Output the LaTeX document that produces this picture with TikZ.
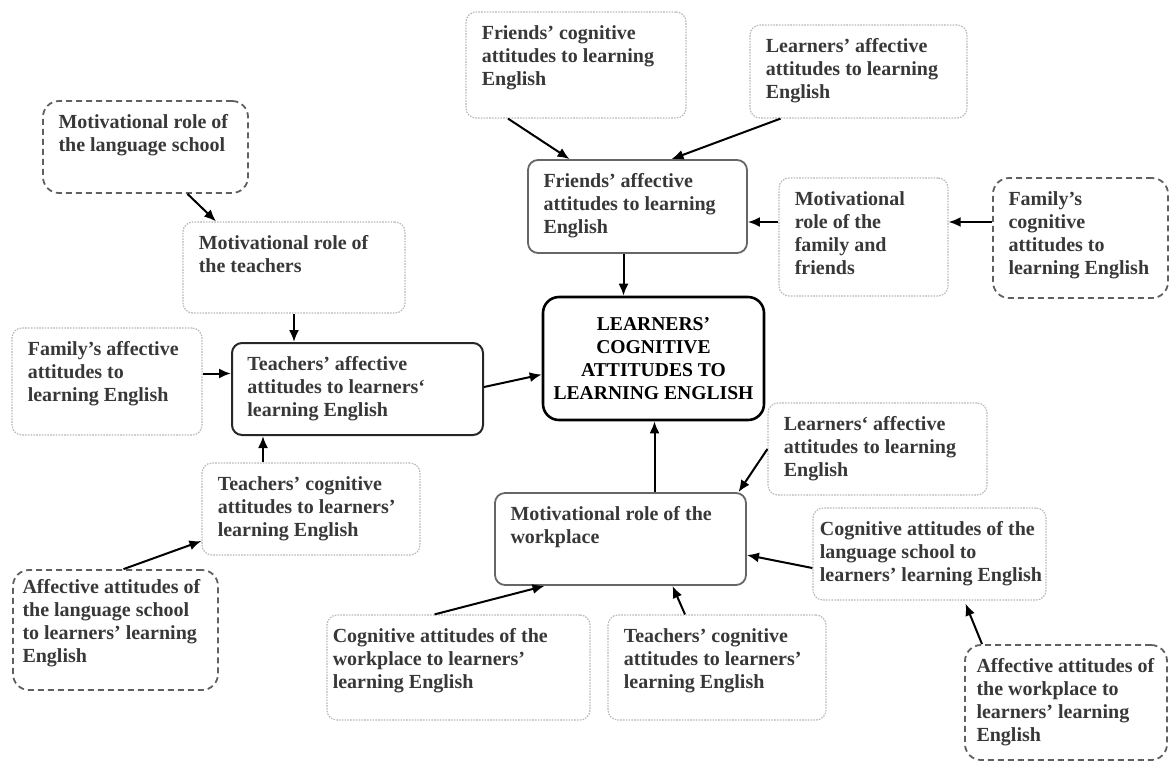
\documentclass[tikz,border=0pt]{standalone}
\usepackage{fontspec}
\setmainfont{Liberation Serif}
\usetikzlibrary{positioning, arrows.meta}

\definecolor{inkgray}{gray}{0.22}

\tikzset{
  base/.style={rounded corners=5pt, inner sep=0pt},
  dims/.style 2 args={minimum width=#1pt, minimum height=#2pt},
  solidbox/.style={base, draw=gray!80!black, line width=0.9pt},
  darkbox/.style={base, draw=black!85, line width=1pt},
  mainbox/.style={base, draw=black, line width=1.3pt, rounded corners=8pt},
  dashbox/.style={base, draw=gray!75!black, line width=0.9pt, dash pattern=on 3pt off 2pt, rounded corners=8pt},
  dotbox/.style={base, draw=gray!55, line width=0.6pt, dash pattern=on 0.8pt off 0.6pt},
  txt/.style={anchor=north west, align=left, inner xsep=8pt, inner ysep=7pt, text=inkgray,
    font=\fontsize{10}{11.5}\selectfont\bfseries},
  link/.style={-{Latex[length=6pt,width=5pt]}, line width=1pt, black},
}

\begin{document}
\begin{tikzpicture}[x=1pt, y=-1pt]
    \useasboundingbox (0,0) rectangle (585,380.5);

    % Left side - the teachers
    \node[dashbox, dims={102.5}{46}, label={[txt]north west:{Motivational role of\\the language school}}] (lsmot) at (72.75,73.5) {};
    \node[dotbox, dims={111}{45.5}, label={[txt]north west:{Motivational role of\\the teachers}}] (tmot) at (147,133.75) {};
    \node[dotbox, dims={95}{53.5}, label={[txt]north west:{Family’s affective\\attitudes to\\learning English}}] (famaff) at (53.5,190.75) {};
    \node[darkbox, dims={125.5}{46}, label={[txt]north west:{Teachers’ affective\\attitudes to learners`\\learning English}}] (taff) at (178.75,194.5) {};
    \node[dotbox, dims={109}{46}, label={[txt]north west:{Teachers’ cognitive\\attitudes to learners’\\learning English}}] (tcogl) at (155.5,254.5) {};
    \node[dashbox, dims={102.5}{60}, label={[txt, inner xsep=5pt, inner ysep=5pt]north west:{Affective attitudes of\\the language school\\to learners’ learning\\English}}] (afflang) at (57.75,315) {};

    % Top - the friends and the family
    \node[dotbox, dims={110}{53}, label={[txt]north west:{Friends’ cognitive\\attitudes to learning\\English}}] (frcog) at (288,32.5) {};
    \node[dotbox, dims={108.5}{46.5}, label={[txt]north west:{Learners’ affective\\attitudes to learning\\English}}] (lafft) at (429.25,35.75) {};
    \node[solidbox, dims={109.5}{46.5}, label={[txt]north west:{Friends’ affective\\attitudes to learning\\English}}] (fraff) at (318.75,103.25) {};
    \node[dotbox, dims={84.5}{59}, label={[txt]north west:{Motivational\\role of the\\family and\\friends}}] (motff) at (431.75,118.5) {};
    \node[dashbox, dims={87.5}{60}, label={[txt]north west:{Family’s\\cognitive\\attitudes to\\learning English}}] (famcog) at (540.25,119) {};

    % Centre
    \node[mainbox, dims={110.5}{61.5}, align=center, font=\fontsize{9.8}{11.5}\selectfont\bfseries] (central) at (326.75,179.25) {LEARNERS’\\COGNITIVE\\ATTITUDES TO\\LEARNING ENGLISH};

    % Bottom - the workplace
    \node[dotbox, dims={109.5}{46}, label={[txt]north west:{Learners` affective\\attitudes to learning\\English}}] (laffb) at (438.75,224.5) {};
    \node[solidbox, dims={125.5}{46}, label={[txt]north west:{Motivational role of the\\workplace}}] (mwork) at (310.25,269.5) {};
    \node[dotbox, dims={116.5}{46}, label={[txt, inner xsep=3.5pt]north west:{Cognitive attitudes of the\\language school to\\learners’ learning English}}] (coglang) at (464.75,277) {};
    \node[dotbox, dims={131.5}{52.5}, label={[txt, inner xsep=3pt]north west:{Cognitive attitudes of the\\workplace to learners’\\learning English}}] (cogwork) at (229.25,333.75) {};
    \node[dotbox, dims={109}{52.5}, label={[txt]north west:{Teachers’ cognitive\\attitudes to learners’\\learning English}}] (tcogb) at (358.5,333.75) {};
    \node[dashbox, dims={101}{57.5}, label={[txt, inner xsep=6pt]north west:{Affective attitudes of\\the workplace to\\learners’ learning\\English}}] (affwork) at (533,351.25) {};

    % Connectors
    \draw[link] ([xshift=21pt]lsmot.south) -- ([xshift=-39pt]tmot.north);
    \draw[link] (tmot.south) -- (tmot.south |- taff.north);
    \draw[link] ([yshift=4pt]famaff.east) -- ([yshift=4pt]famaff.east -| taff.west);
    \draw[link] ([xshift=-24pt]tcogl.north) -- ([xshift=-24pt]tcogl.north |- taff.south);
    \draw[link] ([xshift=4pt]afflang.north) -- ([yshift=-16pt]tcogl.west);
    \draw[link] ([yshift=1pt]taff.east) -- ([yshift=-8pt]central.west);
    \draw[link] ([xshift=-34pt]frcog.south) -- ([xshift=-34pt]fraff.north);
    \draw[link] ([xshift=-39pt]lafft.south) -- ([xshift=17pt]fraff.north);
    \draw[link] ([xshift=-7pt]fraff.south) -- ([xshift=-7pt]fraff.south |- central.north);
    \draw[link] ([yshift=7.5pt]motff.west) -- ([yshift=7.5pt]motff.west -| fraff.east);
    \draw[link] ([yshift=8pt]famcog.west) -- ([yshift=8pt]famcog.west -| motff.east);
    \draw[link] ([xshift=17pt]mwork.north) -- ([xshift=17pt]mwork.north |- central.south);
    \draw[link] (laffb.west) -- ([xshift=59pt]mwork.north);
    \draw[link] ([yshift=-7pt]coglang.west) -- ([yshift=-8pt]mwork.east);
    \draw[link] ([xshift=-12pt]cogwork.north) -- ([xshift=-38pt]mwork.south);
    \draw[link] ([xshift=-16pt]tcogb.north) -- ([xshift=26pt]mwork.south);
    \draw[link] ([xshift=-42pt]affwork.north) -- ([xshift=18pt, yshift=-1.5pt]coglang.south);
\end{tikzpicture}
\end{document}
